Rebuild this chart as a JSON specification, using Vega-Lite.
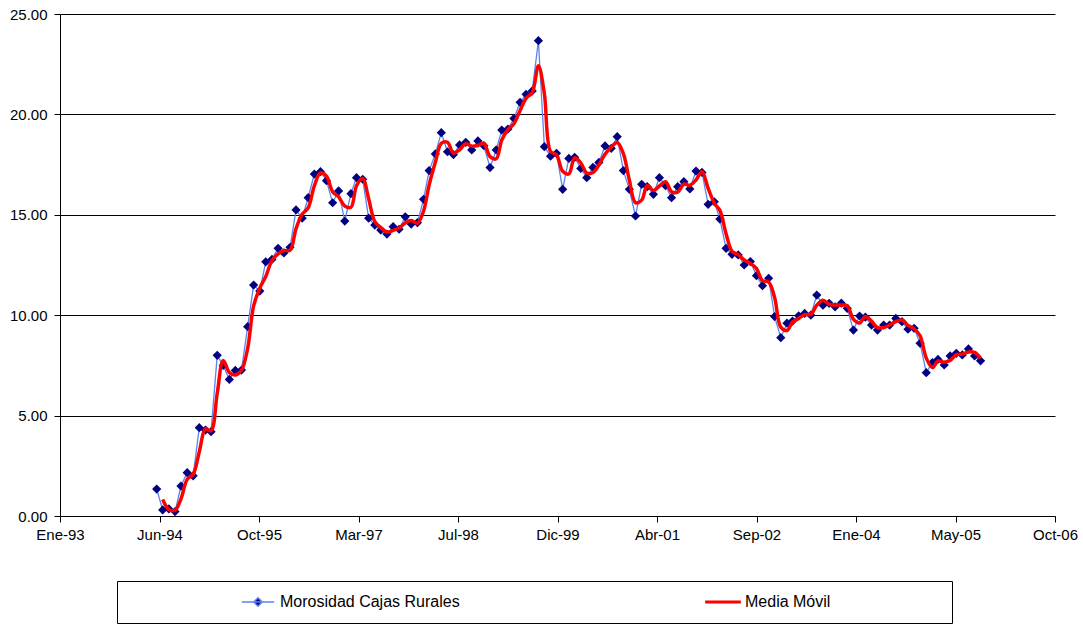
{
  "$schema": "https://vega.github.io/schema/vega-lite/v6.json",
  "width": 995,
  "height": 502,
  "autosize": {"type": "none"},
  "padding": {"left": 60, "top": 14, "right": 28, "bottom": 109},
  "background": "white",
  "config": {
    "font": "Liberation Sans",
    "view": {"stroke": null},
    "axis": {
      "labelFont": "Liberation Sans",
      "labelFontSize": 15,
      "labelColor": "#000",
      "domainColor": "#000",
      "domainWidth": 1,
      "tickColor": "#000",
      "tickSize": 6,
      "title": null
    }
  },
  "data": {
    "values": [
      {"d": "1994-06-01", "v": 1.34}, {"d": "1994-07-01", "v": 0.30}, {"d": "1994-08-01", "v": 0.35}, {"d": "1994-09-01", "v": 0.22},
      {"d": "1994-10-01", "v": 1.49}, {"d": "1994-11-01", "v": 2.16}, {"d": "1994-12-01", "v": 2.00},
      {"d": "1995-01-01", "v": 4.40}, {"d": "1995-02-01", "v": 4.28}, {"d": "1995-03-01", "v": 4.20}, {"d": "1995-04-01", "v": 8.00},
      {"d": "1995-05-01", "v": 7.50}, {"d": "1995-06-01", "v": 6.80}, {"d": "1995-07-01", "v": 7.25}, {"d": "1995-08-01", "v": 7.27},
      {"d": "1995-09-01", "v": 9.43}, {"d": "1995-10-01", "v": 11.50}, {"d": "1995-11-01", "v": 11.20}, {"d": "1995-12-01", "v": 12.66},
      {"d": "1996-01-01", "v": 12.78}, {"d": "1996-02-01", "v": 13.33}, {"d": "1996-03-01", "v": 13.10}, {"d": "1996-04-01", "v": 13.38},
      {"d": "1996-05-01", "v": 15.24}, {"d": "1996-06-01", "v": 14.83}, {"d": "1996-07-01", "v": 15.85}, {"d": "1996-08-01", "v": 17.03},
      {"d": "1996-09-01", "v": 17.15}, {"d": "1996-10-01", "v": 16.70}, {"d": "1996-11-01", "v": 15.60}, {"d": "1996-12-01", "v": 16.19},
      {"d": "1997-01-01", "v": 14.69}, {"d": "1997-02-01", "v": 16.05}, {"d": "1997-03-01", "v": 16.85}, {"d": "1997-04-01", "v": 16.77},
      {"d": "1997-05-01", "v": 14.83}, {"d": "1997-06-01", "v": 14.49}, {"d": "1997-07-01", "v": 14.24}, {"d": "1997-08-01", "v": 14.04},
      {"d": "1997-09-01", "v": 14.41}, {"d": "1997-10-01", "v": 14.28}, {"d": "1997-11-01", "v": 14.90}, {"d": "1997-12-01", "v": 14.54},
      {"d": "1998-01-01", "v": 14.61}, {"d": "1998-02-01", "v": 15.77}, {"d": "1998-03-01", "v": 17.20}, {"d": "1998-04-01", "v": 18.03},
      {"d": "1998-05-01", "v": 19.09}, {"d": "1998-06-01", "v": 18.14}, {"d": "1998-07-01", "v": 18.00}, {"d": "1998-08-01", "v": 18.48},
      {"d": "1998-09-01", "v": 18.61}, {"d": "1998-10-01", "v": 18.23}, {"d": "1998-11-01", "v": 18.68}, {"d": "1998-12-01", "v": 18.44},
      {"d": "1999-01-01", "v": 17.35}, {"d": "1999-02-01", "v": 18.23}, {"d": "1999-03-01", "v": 19.22}, {"d": "1999-04-01", "v": 19.27},
      {"d": "1999-05-01", "v": 19.80}, {"d": "1999-06-01", "v": 20.60}, {"d": "1999-07-01", "v": 21.00}, {"d": "1999-08-01", "v": 21.17},
      {"d": "1999-09-01", "v": 23.67}, {"d": "1999-10-01", "v": 18.39}, {"d": "1999-11-01", "v": 17.92}, {"d": "1999-12-01", "v": 18.06},
      {"d": "2000-01-01", "v": 16.27}, {"d": "2000-02-01", "v": 17.81}, {"d": "2000-03-01", "v": 17.86}, {"d": "2000-04-01", "v": 17.31},
      {"d": "2000-05-01", "v": 16.85}, {"d": "2000-06-01", "v": 17.36}, {"d": "2000-07-01", "v": 17.61}, {"d": "2000-08-01", "v": 18.43},
      {"d": "2000-09-01", "v": 18.31}, {"d": "2000-10-01", "v": 18.89}, {"d": "2000-11-01", "v": 17.20}, {"d": "2000-12-01", "v": 16.27},
      {"d": "2001-01-01", "v": 14.94}, {"d": "2001-02-01", "v": 16.52}, {"d": "2001-03-01", "v": 16.40}, {"d": "2001-04-01", "v": 16.02},
      {"d": "2001-05-01", "v": 16.85}, {"d": "2001-06-01", "v": 16.45}, {"d": "2001-07-01", "v": 15.85}, {"d": "2001-08-01", "v": 16.40},
      {"d": "2001-09-01", "v": 16.65}, {"d": "2001-10-01", "v": 16.29}, {"d": "2001-11-01", "v": 17.18}, {"d": "2001-12-01", "v": 17.11},
      {"d": "2002-01-01", "v": 15.52}, {"d": "2002-02-01", "v": 15.65}, {"d": "2002-03-01", "v": 14.79}, {"d": "2002-04-01", "v": 13.33},
      {"d": "2002-05-01", "v": 13.03}, {"d": "2002-06-01", "v": 13.00}, {"d": "2002-07-01", "v": 12.50}, {"d": "2002-08-01", "v": 12.67},
      {"d": "2002-09-01", "v": 11.97}, {"d": "2002-10-01", "v": 11.47}, {"d": "2002-11-01", "v": 11.84}, {"d": "2002-12-01", "v": 9.93},
      {"d": "2003-01-01", "v": 8.88}, {"d": "2003-02-01", "v": 9.60}, {"d": "2003-03-01", "v": 9.71}, {"d": "2003-04-01", "v": 9.97},
      {"d": "2003-05-01", "v": 10.09}, {"d": "2003-06-01", "v": 10.00}, {"d": "2003-07-01", "v": 11.00}, {"d": "2003-08-01", "v": 10.50},
      {"d": "2003-09-01", "v": 10.59}, {"d": "2003-10-01", "v": 10.42}, {"d": "2003-11-01", "v": 10.60}, {"d": "2003-12-01", "v": 10.34},
      {"d": "2004-01-01", "v": 9.26}, {"d": "2004-02-01", "v": 9.96}, {"d": "2004-03-01", "v": 9.90}, {"d": "2004-04-01", "v": 9.51},
      {"d": "2004-05-01", "v": 9.26}, {"d": "2004-06-01", "v": 9.51}, {"d": "2004-07-01", "v": 9.51}, {"d": "2004-08-01", "v": 9.84},
      {"d": "2004-09-01", "v": 9.68}, {"d": "2004-10-01", "v": 9.30}, {"d": "2004-11-01", "v": 9.35}, {"d": "2004-12-01", "v": 8.60},
      {"d": "2005-01-01", "v": 7.14}, {"d": "2005-02-01", "v": 7.64}, {"d": "2005-03-01", "v": 7.80}, {"d": "2005-04-01", "v": 7.52},
      {"d": "2005-05-01", "v": 7.97}, {"d": "2005-06-01", "v": 8.10}, {"d": "2005-07-01", "v": 8.02}, {"d": "2005-08-01", "v": 8.32},
      {"d": "2005-09-01", "v": 7.97}, {"d": "2005-10-01", "v": 7.73}
    ]
  },
  "encoding": {
    "x": {
      "field": "d",
      "type": "temporal",
      "scale": {
        "type": "utc",
        "nice": false,
        "domain": [
          {"year": 1993, "month": 1, "date": 31, "utc": true},
          {"year": 2006, "month": 10, "date": 10, "utc": true}
        ]
      },
      "axis": {
        "title": null,
        "grid": false,
        "labelPadding": 5,
        "labelOverlap": false,
        "labelFlush": false,
        "values": [
          {"year": 1993, "month": 1, "date": 31, "utc": true},
          {"year": 1994, "month": 6, "date": 15, "utc": true},
          {"year": 1995, "month": 10, "date": 28, "utc": true},
          {"year": 1997, "month": 3, "date": 11, "utc": true},
          {"year": 1998, "month": 7, "date": 24, "utc": true},
          {"year": 1999, "month": 12, "date": 6, "utc": true},
          {"year": 2001, "month": 4, "date": 19, "utc": true},
          {"year": 2002, "month": 9, "date": 1, "utc": true},
          {"year": 2004, "month": 1, "date": 14, "utc": true},
          {"year": 2005, "month": 5, "date": 28, "utc": true},
          {"year": 2006, "month": 10, "date": 10, "utc": true}
        ],
        "labelExpr": "['Ene','Feb','Mar','Abr','May','Jun','Jul','Ago','Sep','Oct','Nov','Dic'][utcmonth(datum.value)] + '-' + utcFormat(datum.value, '%y')"
      }
    }
  },
  "layer": [
    {
      "mark": {"type": "line", "strokeWidth": 1.3},
      "encoding": {
        "y": {
          "field": "v",
          "type": "quantitative",
          "scale": {"domain": [0, 25], "nice": false, "zero": true},
          "axis": {
            "title": null,
            "values": [0, 5, 10, 15, 20, 25],
            "format": ".2f",
            "grid": true,
            "gridColor": "#000",
            "gridWidth": 1,
            "labelPadding": 7
          }
        },
        "color": {
          "datum": "Morosidad Cajas Rurales",
          "type": "nominal",
          "scale": {
            "domain": ["Morosidad Cajas Rurales", "Media Móvil"],
            "range": ["#5b84f0", "#ff0000"]
          },
          "legend": {
            "orient": "none",
            "legendX": 57,
            "legendY": 567,
            "direction": "horizontal",
            "columns": 2,
            "gridAlign": "all",
            "title": null,
            "padding": 13,
            "strokeColor": "#000",
            "fillColor": "white",
            "labelFont": "Liberation Sans",
            "labelFontSize": 16,
            "labelColor": "#000",
            "labelLimit": 0,
            "symbolSize": 289,
            "symbolStrokeWidth": 0,
            "symbolOffset": 120,
            "labelOffset": 14,
            "columnPadding": 121,
            "encode": {
              "symbols": {
                "update": {
                  "shape": {"signal": "datum.value === 'Media Móvil' ? 'M-2.1,0H2.1M24.7,0' : 'M-1.9,0H1.9M0,-0.5L0.5,0L0,0.5L-0.5,0Z'"},
                  "fill": {"signal": "datum.value === 'Media Móvil' ? 'transparent' : '#000080'"},
                  "stroke": {"signal": "datum.value === 'Media Móvil' ? '#ff0000' : '#5b84f0'"},
                  "strokeWidth": {"signal": "datum.value === 'Media Móvil' ? 3 : 1.5"},
                  "opacity": {"value": 1}
                }
              }
            }
          }
        }
      }
    },
    {
      "mark": {"type": "point", "shape": "diamond", "filled": true, "size": 85, "color": "#000080", "opacity": 1},
      "encoding": {
        "y": {"field": "v", "type": "quantitative", "axis": {"title": null}}
      }
    },
    {
      "transform": [
        {
          "window": [
            {"op": "mean", "field": "v", "as": "ma"},
            {"op": "count", "as": "n"}
          ],
          "frame": [-1, 0],
          "sort": [{"field": "d"}]
        },
        {"filter": "datum.n == 2"}
      ],
      "mark": {"type": "line", "strokeWidth": 3.5, "interpolate": "catmull-rom"},
      "encoding": {
        "y": {"field": "ma", "type": "quantitative", "axis": {"title": null}},
        "color": {"datum": "Media Móvil", "type": "nominal"}
      }
    }
  ]
}
